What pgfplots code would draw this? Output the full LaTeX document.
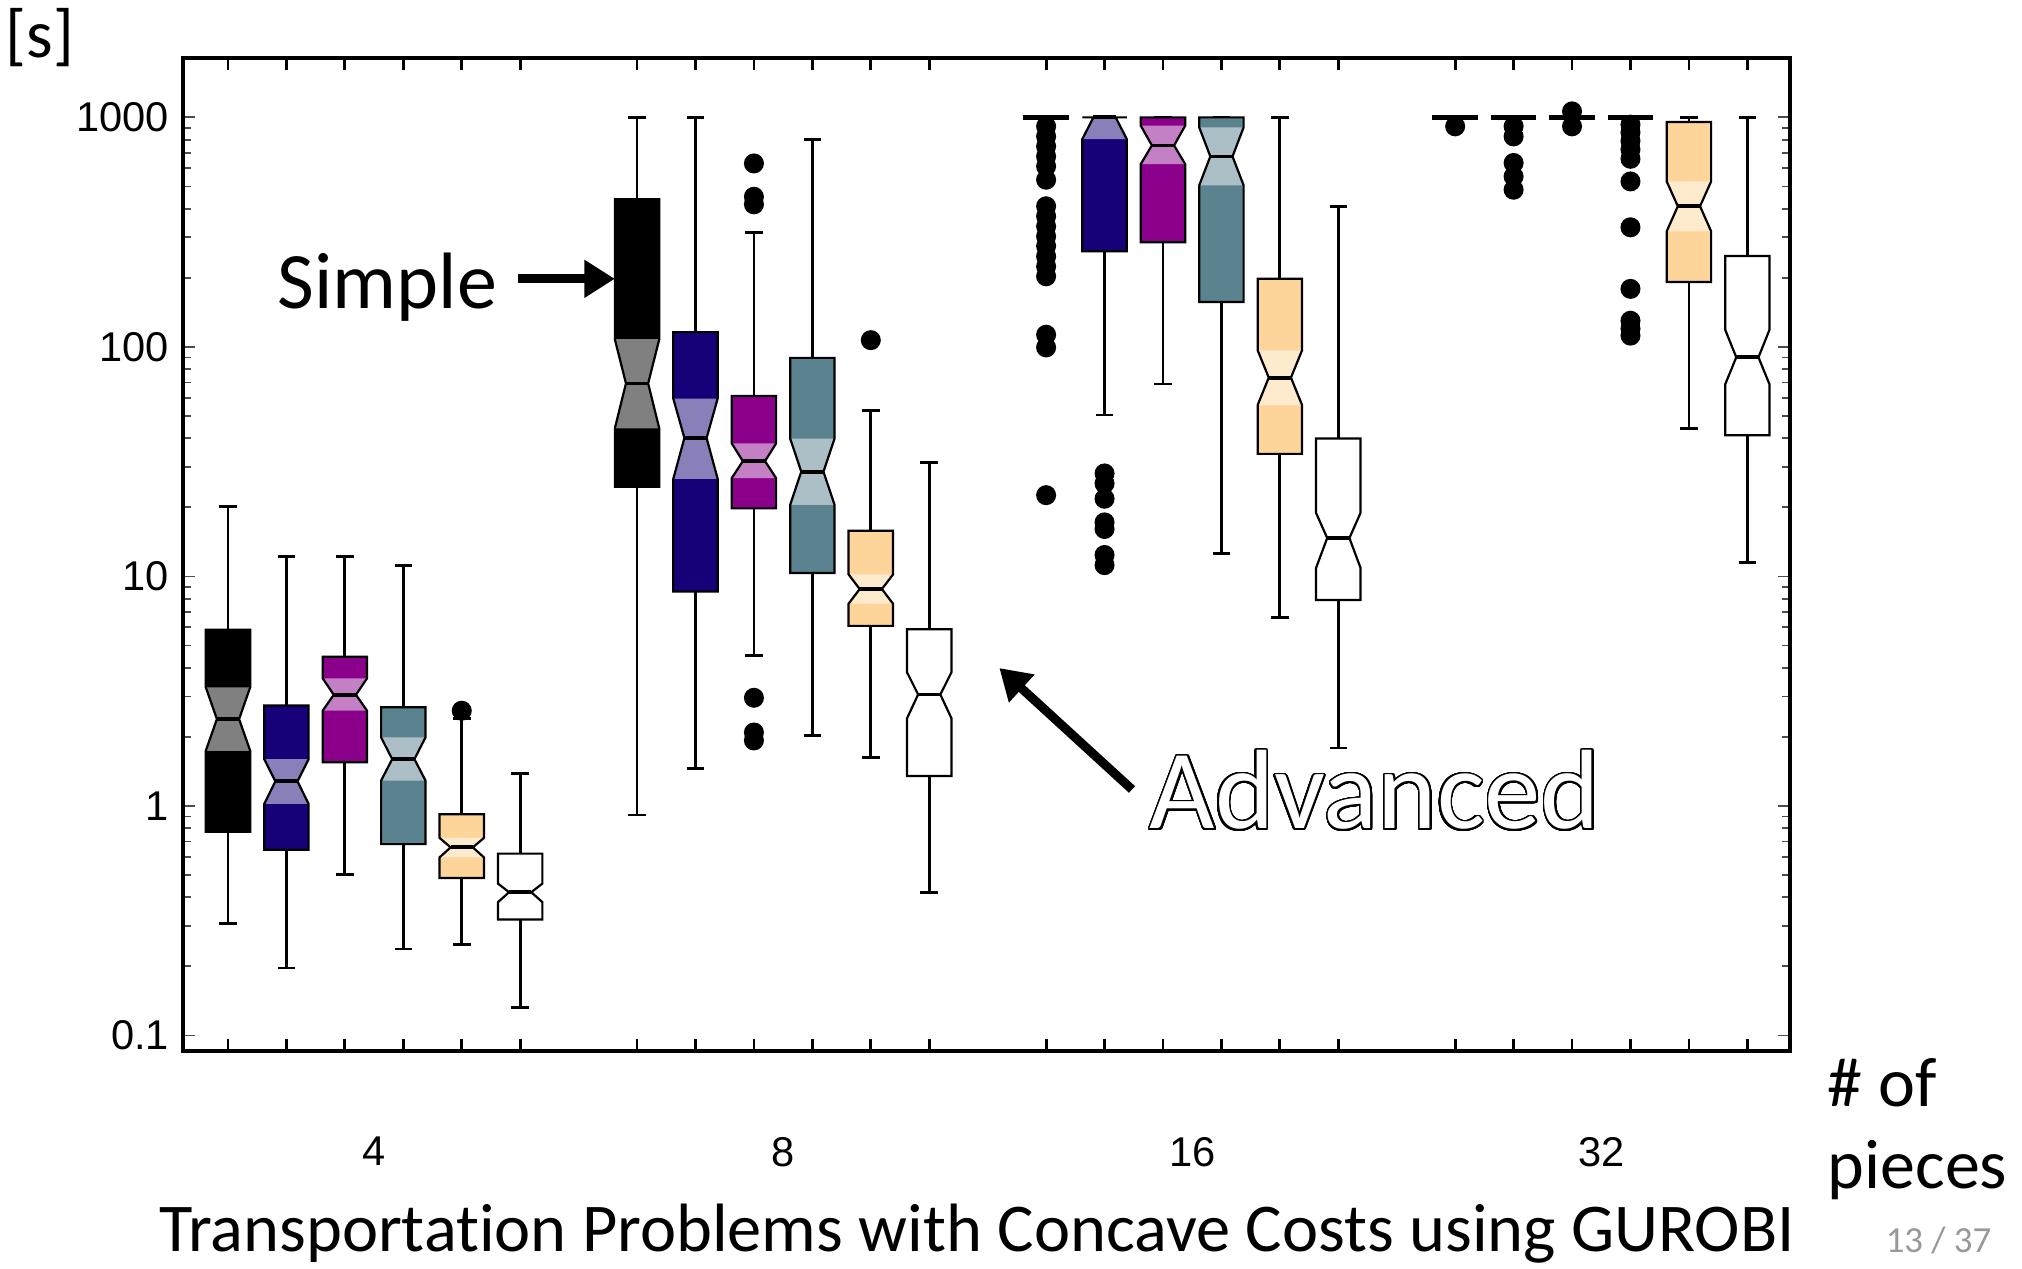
\documentclass[border=0pt]{standalone}
\usepackage{fontspec}
\setmainfont{Carlito}[Ligatures=NoCommon]
\newfontfamily\arialfont{Liberation Sans}
\usepackage{pgfplots}
\pgfplotsset{compat=1.18}
\usetikzlibrary{arrows.meta}
\usepackage{contour}
\contourlength{0.42pt}
\contournumber{48}

\definecolor{cblack}{HTML}{000000}
\definecolor{cblackL}{HTML}{808080}
\definecolor{cnavy}{HTML}{180078}
\definecolor{cnavyL}{HTML}{8980B9}
\definecolor{cpurp}{HTML}{8B008B}
\definecolor{cpurpL}{HTML}{C480C5}
\definecolor{cteal}{HTML}{5B828F}
\definecolor{ctealL}{HTML}{ADBFC6}
\definecolor{corng}{HTML}{FDD59B}
\definecolor{corngL}{HTML}{FEEACD}
\definecolor{cwhite}{HTML}{FFFFFF}
\definecolor{cwhiteL}{HTML}{FFFFFF}

% #1 x, #2 lower whisker, #3 Q1, #4 lower notch, #5 median, #6 upper notch, #7 Q3, #8 upper whisker, #9 colour
\newcommand{\notchbox}[9]{%
  \pgfmathsetmacro\xa{#1-0.38}%
  \pgfmathsetmacro\xb{#1+0.38}%
  \pgfmathsetmacro\xc{#1-0.19}%
  \pgfmathsetmacro\xd{#1+0.19}%
  \pgfmathsetmacro\xe{#1-0.15}%
  \pgfmathsetmacro\xf{#1+0.15}%
  \addplot[line width=0.7pt] coordinates {(#1,#7) (#1,#8)};
  \addplot[line width=0.7pt] coordinates {(#1,#3) (#1,#2)};
  \addplot[line width=0.7pt] coordinates {(\xe,#8) (\xf,#8)};
  \addplot[line width=0.7pt] coordinates {(\xe,#2) (\xf,#2)};
  \addplot[draw=none, fill=#9] coordinates {(\xa,#3) (\xb,#3) (\xb,#4) (\xd,#5) (\xb,#6) (\xb,#7) (\xa,#7) (\xa,#6) (\xc,#5) (\xa,#4) (\xa,#3)};
  \addplot[draw=none, fill=#9L] coordinates {(\xa,#4) (\xb,#4) (\xd,#5) (\xb,#6) (\xa,#6) (\xc,#5) (\xa,#4)};
  \addplot[line width=0.55pt, line join=miter] coordinates {(\xa,#3) (\xb,#3) (\xb,#4) (\xd,#5) (\xb,#6) (\xb,#7) (\xa,#7) (\xa,#6) (\xc,#5) (\xa,#4) (\xa,#3) (\xb,#3)};
  \addplot[line width=0.95pt] coordinates {(\xc,#5) (\xd,#5)};
}
% degenerate box: everything at the time limit
\newcommand{\flatbox}[2]{%
  \pgfmathsetmacro\xa{#1-0.39}%
  \pgfmathsetmacro\xb{#1+0.39}%
  \addplot[line width=1.2pt] coordinates {(\xa,#2) (\xb,#2)};
}

\begin{document}
\begin{tikzpicture}
\begin{axis}[
  at={(0,0)}, anchor=south west,
  scale only axis, width=401.75pt, height=248.25pt,
  xmin=-0.77, xmax=26.73,
  ymode=log, ymin=0.0856, ymax=1815,
  axis line style={line width=0.8pt},
  clip=false,
  xtick={0,1,2,3,4,5,7,8,9,10,11,12,14,15,16,17,18,19,21,22,23,24,25,26},
  xticklabels={},
  extra x ticks={2.5,9.5,16.5,23.5},
  extra x tick labels={4,8,16,32},
  extra x tick style={major tick length=0pt, tick label style={yshift=-18pt}},
  ytick={0.1,1,10,100,1000},
  yticklabels={0.1,1,10,100,1000},
  tick align=inside,
  major tick length=3pt, minor tick length=2pt,
  xtick style={line width=0.7pt, black},
  ytick style={line width=0.45pt, black!70},
  tick label style={font=\arialfont\fontsize{10.4}{12}\selectfont},
]
% ---- 4 pieces
\notchbox{0}{0.308}{0.772}{1.74}{2.39}{3.29}{5.86}{20.1}{cblack}
\notchbox{1}{0.197}{0.644}{1.02}{1.28}{1.60}{2.74}{12.2}{cnavy}
\notchbox{2}{0.503}{1.55}{2.60}{3.05}{3.60}{4.47}{12.2}{cpurp}
\notchbox{3}{0.238}{0.682}{1.29}{1.60}{1.99}{2.69}{11.2}{cteal}
\notchbox{4}{0.249}{0.485}{0.597}{0.660}{0.726}{0.92}{2.40}{corng}
\notchbox{5}{0.132}{0.320}{0.381}{0.421}{0.459}{0.620}{1.38}{cwhite}
% ---- 8 pieces
\notchbox{7}{0.913}{24.6}{44.2}{69.3}{108}{440}{1000}{cblack}
\notchbox{8}{1.46}{8.6}{26.6}{40.1}{59.6}{116}{1000}{cnavy}
\notchbox{9}{4.52}{19.8}{26.8}{31.8}{38.0}{61.2}{316}{cpurp}
\notchbox{10}{2.03}{10.35}{20.5}{28.6}{39.9}{89.6}{800}{cteal}
\notchbox{11}{1.62}{6.09}{7.61}{8.81}{10.2}{15.8}{52.7}{corng}
\notchbox{12}{0.42}{1.35}{2.41}{3.06}{3.82}{5.89}{31.4}{cwhite}
% ---- 16 pieces
\flatbox{14}{1000}
\notchbox{15}{50.5}{261}{805}{1000}{1000}{1000}{1000}{cnavy}
\notchbox{16}{69}{286}{626}{755}{920}{1000}{1000}{cpurp}
\notchbox{17}{12.6}{157}{506}{676}{905}{1000}{1000}{cteal}
\notchbox{18}{6.6}{34.2}{55.8}{73.5}{96.7}{198}{1000}{corng}
\notchbox{19}{1.79}{7.9}{10.9}{14.7}{18.9}{39.9}{410}{cwhite}
% ---- 32 pieces
\flatbox{21}{1000}
\flatbox{22}{1000}
\flatbox{23}{1000}
\flatbox{24}{1000}
\notchbox{25}{44.1}{192}{319}{410}{526}{954}{1000}{corng}
\notchbox{26}{11.5}{41.2}{68.6}{90.1}{119}{249}{1000}{cwhite}
% ---- outliers
\addplot[only marks, mark=*, mark size=2.3pt, black] coordinates {
 (4,2.60)
 (9,630) (9,451) (9,418) (9,2.96) (9,2.09) (9,1.93)
 (11,107)
 (14,914) (14,826) (14,748) (14,676) (14,612) (14,535) (14,410) (14,371) (14,335) (14,303) (14,275) (14,248) (14,224) (14,203) (14,113) (14,99.5) (14,22.6)
 (15,28.1) (15,25.4) (15,21.8) (15,17.2) (15,16.1) (15,12.4) (15,11.2)
 (21,914)
 (22,914) (22,826) (22,633) (22,553) (22,484)
 (23,1062) (23,914)
 (24,930) (24,860) (24,790) (24,725) (24,660) (24,526) (24,332) (24,179) (24,130) (24,120) (24,112)
};
% ---- annotations
\draw[line width=2.25pt, -{Triangle[length=7.6pt,width=9pt]}] (axis cs:4.97,198) -- (axis cs:6.62,198);
\draw[line width=2.25pt, -{Triangle[length=7.6pt,width=9pt]}] (axis cs:15.47,1.18) -- (axis cs:13.2,3.99);
\end{axis}
\node[anchor=base west, font=\fontsize{20}{24}\selectfont, inner sep=0] at (23.5pt,185.5pt) {Simple};
\node[anchor=base west, font=\fontsize{28.2}{32}\selectfont, inner sep=0] at (241.5pt,55.5pt) {\color{white}\contour{black}{Advanced}};
\node[anchor=base west, font=\fontsize{17}{20}\selectfont, inner sep=0] at (-44.5pt,248.25pt) {[s]};
\node[anchor=base, font=\fontsize{17.1}{20}\selectfont, inner sep=0] at (198.5pt,-50.2pt) {Transportation Problems with Concave Costs using GUROBI};
\node[anchor=base west, font=\fontsize{17.5}{20}\selectfont, inner sep=0] at (411pt,-14pt) {\# of};
\node[anchor=base west, font=\fontsize{17.5}{20}\selectfont, inner sep=0] at (411pt,-34.5pt) {pieces};
\node[anchor=base west, font=\fontsize{9.2}{11}\selectfont, inner sep=0, text=black!40] at (425.5pt,-50.5pt) {13 / 37};
\pgfresetboundingbox
\path[use as bounding box] (-45.75pt,-54.5pt) rectangle (459.75pt,262.75pt);
\end{tikzpicture}
\end{document}
